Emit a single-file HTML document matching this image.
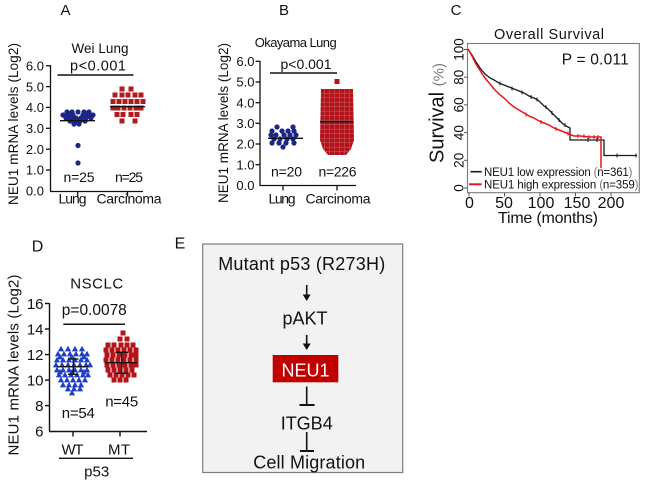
<!DOCTYPE html>
<html>
<head>
<meta charset="utf-8">
<style>
html,body{margin:0;padding:0;background:#fff;}
svg{display:block;}
text{font-family:"Liberation Sans",Arial,sans-serif;fill:#111;}
</style>
</head>
<body>
<svg width="646" height="487" viewBox="0 0 646 487" xmlns="http://www.w3.org/2000/svg">
<defs>
  <circle id="c" r="2.6"/>
  <rect id="s" x="-2.5" y="-2.5" width="5" height="5"/>
  <path id="t" d="M0,-3.2 L3.1,2.4 L-3.1,2.4Z"/>
  <pattern id="rp" width="5" height="4.5" patternUnits="userSpaceOnUse" x="320" y="89">
    <rect width="5" height="4.5" fill="#c7565a"/>
    <rect width="4.4" height="3.9" fill="#b3121b"/>
  </pattern>
</defs>
<rect width="646" height="487" fill="#fff"/>

<!-- ================= PANEL A ================= -->
<text x="65.5" y="15" font-size="15" text-anchor="middle">A</text>
<text x="100" y="53" font-size="13.5" text-anchor="middle" textLength="57">Wei Lung</text>
<text x="98" y="70.5" font-size="14.5" text-anchor="middle" textLength="56">p&lt;0.001</text>
<line x1="57.5" y1="75" x2="133.5" y2="75" stroke="#111" stroke-width="1.5"/>
<text transform="translate(18,124) rotate(-90)" font-size="13.5" text-anchor="middle" textLength="162">NEU1 mRNA levels (Log2)</text>
<g stroke="#111" stroke-width="1.3">
  <line x1="50.5" y1="65" x2="50.5" y2="191.5"/>
  <line x1="50" y1="191.5" x2="143" y2="191.5"/>
  <line x1="46" y1="65.7" x2="50.5" y2="65.7"/>
  <line x1="46" y1="86.6" x2="50.5" y2="86.6"/>
  <line x1="46" y1="107.4" x2="50.5" y2="107.4"/>
  <line x1="46" y1="128.3" x2="50.5" y2="128.3"/>
  <line x1="46" y1="149.2" x2="50.5" y2="149.2"/>
  <line x1="46" y1="170" x2="50.5" y2="170"/>
  <line x1="77.7" y1="191.5" x2="77.7" y2="196.5"/>
  <line x1="127.5" y1="191.5" x2="127.5" y2="196.5"/>
</g>
<g font-size="13" text-anchor="end">
  <text x="44" y="70.4">6.0</text>
  <text x="44" y="91.3">5.0</text>
  <text x="44" y="112.1">4.0</text>
  <text x="44" y="133">3.0</text>
  <text x="44" y="153.9">2.0</text>
  <text x="44" y="174.7">1.0</text>
  <text x="44" y="195.6">0.0</text>
</g>
<g fill="#1c2588">
  <use href="#c" x="67" y="112"/><use href="#c" x="72" y="112"/><use href="#c" x="78" y="112"/><use href="#c" x="84" y="112"/><use href="#c" x="89" y="112"/>
  <use href="#c" x="63" y="115"/><use href="#c" x="68" y="115"/><use href="#c" x="73" y="115"/><use href="#c" x="83" y="115"/><use href="#c" x="88" y="115"/><use href="#c" x="93" y="115"/>
  <use href="#c" x="66" y="118"/><use href="#c" x="71" y="118"/><use href="#c" x="76" y="118"/><use href="#c" x="81" y="118"/><use href="#c" x="86" y="118"/><use href="#c" x="91" y="118"/>
  <use href="#c" x="70" y="121"/><use href="#c" x="75" y="121"/><use href="#c" x="80" y="121"/><use href="#c" x="85" y="121"/>
  <use href="#c" x="74" y="124"/><use href="#c" x="79" y="124"/>
  <use href="#c" x="78" y="145.5"/><use href="#c" x="78" y="163"/>
</g>
<line x1="60" y1="120.7" x2="95" y2="120.7" stroke="#111" stroke-width="1.4"/>
<g fill="#b3191e">
  <use href="#s" x="122" y="89"/><use href="#s" x="131" y="89"/>
  <use href="#s" x="115" y="95"/><use href="#s" x="122" y="95"/><use href="#s" x="128" y="95"/><use href="#s" x="135" y="95"/><use href="#s" x="141" y="95"/>
  <use href="#s" x="113" y="101.5"/><use href="#s" x="119" y="101.5"/><use href="#s" x="125" y="101.5"/><use href="#s" x="131" y="101.5"/><use href="#s" x="137" y="101.5"/><use href="#s" x="143" y="101.5"/>
  <use href="#s" x="113" y="108"/><use href="#s" x="118" y="108"/><use href="#s" x="124" y="108"/><use href="#s" x="130" y="108"/><use href="#s" x="136" y="108"/><use href="#s" x="141" y="108"/>
  <use href="#s" x="117" y="114.5"/><use href="#s" x="123" y="114.5"/><use href="#s" x="131" y="114.5"/><use href="#s" x="137" y="114.5"/>
  <use href="#s" x="122" y="121"/><use href="#s" x="135" y="121"/>
</g>
<line x1="110" y1="106.7" x2="145" y2="106.7" stroke="#111" stroke-width="1.4"/>
<text x="79" y="182" font-size="14" text-anchor="middle" textLength="31">n=25</text>
<text x="129" y="182" font-size="14" text-anchor="middle" textLength="28">n=25</text>
<text x="72.5" y="203.5" font-size="14" text-anchor="middle" textLength="28">Lung</text>
<text x="129" y="203.5" font-size="14" text-anchor="middle" textLength="65">Carcinoma</text>

<!-- ================= PANEL B ================= -->
<text x="284" y="15" font-size="15" text-anchor="middle">B</text>
<text x="295.7" y="47" font-size="13" text-anchor="middle" textLength="82">Okayama Lung</text>
<text x="306" y="69" font-size="14" text-anchor="middle" textLength="51">p&lt;0.001</text>
<line x1="270" y1="73" x2="337" y2="73" stroke="#111" stroke-width="1.5"/>
<text transform="translate(228,123) rotate(-90)" font-size="13.5" text-anchor="middle" textLength="160">NEU1 mRNA levels (Log2)</text>
<g stroke="#111" stroke-width="1.3">
  <line x1="260" y1="61" x2="260" y2="185.5"/>
  <line x1="259.5" y1="185.5" x2="356" y2="185.5"/>
  <line x1="255.5" y1="61.3" x2="260" y2="61.3"/>
  <line x1="255.5" y1="82" x2="260" y2="82"/>
  <line x1="255.5" y1="102.7" x2="260" y2="102.7"/>
  <line x1="255.5" y1="123.3" x2="260" y2="123.3"/>
  <line x1="255.5" y1="144" x2="260" y2="144"/>
  <line x1="255.5" y1="164.7" x2="260" y2="164.7"/>
  <line x1="283" y1="185.5" x2="283" y2="190.5"/>
  <line x1="337" y1="185.5" x2="337" y2="190.5"/>
</g>
<g font-size="13" text-anchor="end">
  <text x="254.5" y="66">6.0</text>
  <text x="254.5" y="86.7">5.0</text>
  <text x="254.5" y="107.4">4.0</text>
  <text x="254.5" y="128">3.0</text>
  <text x="254.5" y="148.7">2.0</text>
  <text x="254.5" y="169.4">1.0</text>
  <text x="254.5" y="190">0.0</text>
</g>
<g fill="#1c2588">
  <use href="#c" x="277" y="127"/><use href="#c" x="293" y="127"/>
  <use href="#c" x="272" y="131"/><use href="#c" x="282" y="131"/><use href="#c" x="288" y="131"/><use href="#c" x="294" y="131"/>
  <use href="#c" x="271" y="135"/><use href="#c" x="276" y="135"/><use href="#c" x="284" y="135"/><use href="#c" x="290" y="135"/><use href="#c" x="296" y="135"/>
  <use href="#c" x="274" y="139"/><use href="#c" x="280" y="139"/><use href="#c" x="287" y="139"/><use href="#c" x="293" y="139"/>
  <use href="#c" x="272" y="143"/><use href="#c" x="279" y="143"/><use href="#c" x="286" y="143"/><use href="#c" x="294" y="143"/>
  <use href="#c" x="283" y="147"/>
</g>
<line x1="268" y1="138.3" x2="303" y2="138.3" stroke="#111" stroke-width="1.4"/>
<polygon points="321,89 353,89 354,140 351,149 346,155 328,155 323,149 320,140" fill="url(#rp)"/>
<rect x="334.5" y="79" width="5" height="5" fill="#b3121b"/>
<line x1="320" y1="121.7" x2="353.5" y2="121.7" stroke="#111" stroke-width="1.6"/>
<text x="286.5" y="176.5" font-size="14" text-anchor="middle" textLength="31">n=20</text>
<text x="337.5" y="176.5" font-size="14" text-anchor="middle" textLength="38">n=226</text>
<text x="282" y="203.5" font-size="14" text-anchor="middle" textLength="27">Lung</text>
<text x="338" y="203.5" font-size="14" text-anchor="middle" textLength="65">Carcinoma</text>

<!-- ================= PANEL C ================= -->
<text x="456" y="15" font-size="15" text-anchor="middle">C</text>
<text x="549" y="39" font-size="14.5" text-anchor="middle" textLength="110">Overall Survival</text>
<rect x="467.5" y="43.5" width="171.8" height="149.2" fill="none" stroke="#7a7a7a" stroke-width="1.1"/>
<text x="561.7" y="64.5" font-size="15.5" textLength="67">P = 0.011</text>
<text transform="translate(443.5,113) rotate(-90)" text-anchor="middle"><tspan font-size="20">Survival </tspan><tspan font-size="15" fill="#7a7a7a" style="fill:#7a7a7a">(%)</tspan></text>
<g stroke="#555" stroke-width="1">
  <line x1="464" y1="49.5" x2="467.5" y2="49.5"/>
  <line x1="464" y1="77.2" x2="467.5" y2="77.2"/>
  <line x1="464" y1="104.9" x2="467.5" y2="104.9"/>
  <line x1="464" y1="132.6" x2="467.5" y2="132.6"/>
  <line x1="464" y1="160.3" x2="467.5" y2="160.3"/>
  <line x1="464" y1="188" x2="467.5" y2="188"/>
  <line x1="469" y1="192.7" x2="469" y2="196.5"/>
  <line x1="504.5" y1="192.7" x2="504.5" y2="196.5"/>
  <line x1="540" y1="192.7" x2="540" y2="196.5"/>
  <line x1="575.5" y1="192.7" x2="575.5" y2="196.5"/>
  <line x1="611" y1="192.7" x2="611" y2="196.5"/>
</g>
<g font-size="13.5" text-anchor="middle">
  <text transform="translate(463.5,49.5) rotate(-90)">100</text>
  <text transform="translate(463.5,77.2) rotate(-90)">80</text>
  <text transform="translate(463.5,104.9) rotate(-90)">60</text>
  <text transform="translate(463.5,132.6) rotate(-90)">40</text>
  <text transform="translate(463.5,160.3) rotate(-90)">20</text>
  <text transform="translate(463.5,188) rotate(-90)">0</text>
</g>
<g font-size="16" text-anchor="middle">
  <text x="469.5" y="208">0</text>
  <text x="504" y="208">50</text>
  <text x="541" y="208">100</text>
  <text x="577" y="208">150</text>
  <text x="611" y="208">200</text>
</g>
<text x="548" y="223" font-size="16" text-anchor="middle" textLength="100">Time (months)</text>
<polyline fill="none" stroke="#1a1a1a" stroke-width="1.3" points="468,49 472,55 476,62 480,68 485,74 490,78 494,80 499,83 504,85 509,87 514,89 519,91 524,93 529,96 534,98 538,100 541,103 544,106 547,108 550,111 554,115 557,118 560,121 563,124 566,126 570,128 570,140 604,140 604,155.5 637,155.5"/>
<polyline fill="none" stroke="#e8141c" stroke-width="1.5" points="468,49 472,56 476,64 481,72 485,78 490,84 494,89 499,94 504,98 509,103 514,107 519,110 524,113 529,116 534,118 539,121 544,123 549,125 554,128 559,130 564,132 569,134 574,136 580,136 590,137 601,137 601,168"/>
<g stroke="#1a1a1a" stroke-width="1">
  <line x1="500" y1="81.5" x2="500" y2="85.5"/><line x1="512" y1="86.5" x2="512" y2="90.5"/><line x1="522" y1="90.5" x2="522" y2="94.5"/>
  <line x1="531" y1="95" x2="531" y2="99"/><line x1="537" y1="97.5" x2="537" y2="101.5"/><line x1="546" y1="105" x2="546" y2="109"/>
  <line x1="552" y1="111" x2="552" y2="115"/><line x1="559" y1="118" x2="559" y2="122"/><line x1="565" y1="123" x2="565" y2="127"/>
  <line x1="588" y1="138" x2="588" y2="142"/><line x1="597" y1="138" x2="597" y2="142"/><line x1="617" y1="153.5" x2="617" y2="157.5"/><line x1="636" y1="153.5" x2="636" y2="157.5"/>
</g>
<g stroke="#e8141c" stroke-width="1">
  <line x1="526" y1="112.5" x2="526" y2="116.5"/><line x1="541" y1="120" x2="541" y2="124"/><line x1="556" y1="127" x2="556" y2="131"/>
  <line x1="568" y1="131.5" x2="568" y2="135.5"/><line x1="578" y1="134" x2="578" y2="138"/><line x1="584" y1="134" x2="584" y2="138"/>
  <line x1="589" y1="135" x2="589" y2="139"/><line x1="594" y1="135" x2="594" y2="139"/><line x1="598" y1="135" x2="598" y2="139"/>
</g>
<line x1="470.5" y1="171.7" x2="481.7" y2="171.7" stroke="#1a1a1a" stroke-width="1.6"/>
<line x1="469" y1="184.3" x2="481.7" y2="184.3" stroke="#e8141c" stroke-width="2"/>
<text x="484" y="175.8" font-size="11.5" textLength="148.5">NEU1 low expression <tspan fill="#777" style="fill:#777">(</tspan>n=361<tspan fill="#777" style="fill:#777">)</tspan></text>
<text x="484" y="188.4" font-size="11.5" textLength="154.5">NEU1 high expression <tspan fill="#777" style="fill:#777">(</tspan>n=359<tspan fill="#777" style="fill:#777">)</tspan></text>

<!-- ================= PANEL D ================= -->
<text x="37.5" y="251.5" font-size="16" text-anchor="middle">D</text>
<text x="96.7" y="288.5" font-size="15" text-anchor="middle" textLength="53">NSCLC</text>
<text x="94.3" y="315" font-size="15.5" text-anchor="middle" textLength="65">p=0.0078</text>
<line x1="63.3" y1="324.3" x2="125" y2="324.3" stroke="#111" stroke-width="1.5"/>
<text transform="translate(18.5,365) rotate(-90)" font-size="15" text-anchor="middle" textLength="181">NEU1 mRNA levels (Log2)</text>
<g stroke="#111" stroke-width="1.4">
  <line x1="49.5" y1="303" x2="49.5" y2="431.5"/>
  <line x1="49" y1="431.5" x2="147" y2="431.5"/>
  <line x1="45" y1="303.5" x2="49.5" y2="303.5"/>
  <line x1="45" y1="329" x2="49.5" y2="329"/>
  <line x1="45" y1="354.6" x2="49.5" y2="354.6"/>
  <line x1="45" y1="380.1" x2="49.5" y2="380.1"/>
  <line x1="45" y1="405.6" x2="49.5" y2="405.6"/>
  <line x1="73" y1="431.5" x2="73" y2="436.5"/>
  <line x1="120" y1="431.5" x2="120" y2="436.5"/>
</g>
<g font-size="15" text-anchor="end">
  <text x="43.5" y="308.8">16</text>
  <text x="43.5" y="334.3">14</text>
  <text x="43.5" y="359.9">12</text>
  <text x="43.5" y="385.4">10</text>
  <text x="43.5" y="410.9">8</text>
  <text x="43.5" y="436.4">6</text>
</g>
<g fill="#1f3ec8">
  <use href="#t" x="61" y="349"/><use href="#t" x="68" y="349"/><use href="#t" x="75" y="349"/><use href="#t" x="82" y="349"/>
  <use href="#t" x="58" y="354"/><use href="#t" x="64" y="354"/><use href="#t" x="70" y="354"/><use href="#t" x="76" y="354"/><use href="#t" x="82" y="354"/><use href="#t" x="87" y="354"/>
  <use href="#t" x="60" y="357"/><use href="#t" x="72" y="357"/><use href="#t" x="84" y="357"/>
  <use href="#t" x="57" y="360"/><use href="#t" x="63" y="360"/><use href="#t" x="69" y="360"/><use href="#t" x="75" y="360"/><use href="#t" x="81" y="360"/><use href="#t" x="87" y="360"/>
  <use href="#t" x="56" y="365"/><use href="#t" x="62" y="365"/><use href="#t" x="68" y="365"/><use href="#t" x="74" y="365"/><use href="#t" x="80" y="365"/><use href="#t" x="86" y="365"/><use href="#t" x="90" y="365"/>
  <use href="#t" x="57" y="370"/><use href="#t" x="63" y="370"/><use href="#t" x="69" y="370"/><use href="#t" x="75" y="370"/><use href="#t" x="81" y="370"/><use href="#t" x="87" y="370"/>
  <use href="#t" x="60" y="372"/><use href="#t" x="72" y="372"/><use href="#t" x="84" y="372"/>
  <use href="#t" x="59" y="375"/><use href="#t" x="65" y="375"/><use href="#t" x="71" y="375"/><use href="#t" x="77" y="375"/><use href="#t" x="83" y="375"/><use href="#t" x="88" y="375"/>
  <use href="#t" x="61" y="380"/><use href="#t" x="67" y="380"/><use href="#t" x="73" y="380"/><use href="#t" x="79" y="380"/><use href="#t" x="85" y="380"/>
  <use href="#t" x="63" y="385"/><use href="#t" x="69" y="385"/><use href="#t" x="75" y="385"/><use href="#t" x="81" y="385"/>
  <use href="#t" x="68" y="389"/><use href="#t" x="74" y="389"/><use href="#t" x="80" y="389"/>
  <use href="#t" x="72" y="393"/>
</g>
<g stroke="#111" stroke-width="1.4">
  <line x1="57" y1="366.7" x2="88.5" y2="366.7"/>
  <line x1="73.3" y1="359" x2="73.3" y2="374.3"/>
  <line x1="68" y1="359" x2="78.5" y2="359"/>
  <line x1="68" y1="374.3" x2="78.5" y2="374.3"/>
</g>
<g fill="#b41418">
  <use href="#s" x="123" y="333"/>
  <use href="#s" x="120" y="339"/><use href="#s" x="127" y="339"/>
  <use href="#s" x="108" y="345"/><use href="#s" x="114" y="345"/><use href="#s" x="121" y="345"/><use href="#s" x="127" y="345"/><use href="#s" x="133" y="345"/>
  <use href="#s" x="106" y="350"/><use href="#s" x="112" y="350"/><use href="#s" x="118" y="350"/><use href="#s" x="124" y="350"/><use href="#s" x="130" y="350"/><use href="#s" x="136" y="350"/>
  <use href="#s" x="107" y="355"/><use href="#s" x="113" y="355"/><use href="#s" x="119" y="355"/><use href="#s" x="125" y="355"/><use href="#s" x="131" y="355"/><use href="#s" x="136" y="355"/>
  <use href="#s" x="106" y="360"/><use href="#s" x="112" y="360"/><use href="#s" x="118" y="360"/><use href="#s" x="124" y="360"/><use href="#s" x="130" y="360"/><use href="#s" x="136" y="360"/>
  <use href="#s" x="107" y="365"/><use href="#s" x="113" y="365"/><use href="#s" x="119" y="365"/><use href="#s" x="125" y="365"/><use href="#s" x="131" y="365"/><use href="#s" x="136" y="365"/>
  <use href="#s" x="108" y="370"/><use href="#s" x="114" y="370"/><use href="#s" x="120" y="370"/><use href="#s" x="126" y="370"/><use href="#s" x="132" y="370"/>
  <use href="#s" x="110" y="375"/><use href="#s" x="116" y="375"/><use href="#s" x="122" y="375"/><use href="#s" x="128" y="375"/><use href="#s" x="134" y="375"/>
  <use href="#s" x="114" y="380"/><use href="#s" x="120" y="380"/><use href="#s" x="126" y="380"/>
</g>
<g stroke="#111" stroke-width="1.4">
  <line x1="105" y1="362.7" x2="137" y2="362.7"/>
  <line x1="121.7" y1="352.3" x2="121.7" y2="373.3"/>
  <line x1="115.5" y1="352.3" x2="128" y2="352.3"/>
  <line x1="115.5" y1="373.3" x2="128" y2="373.3"/>
</g>
<text x="78.3" y="418" font-size="15" text-anchor="middle" textLength="33">n=54</text>
<text x="121.7" y="406.5" font-size="15" text-anchor="middle" textLength="33">n=45</text>
<text x="72.5" y="454.5" font-size="15" text-anchor="middle" textLength="22">WT</text>
<text x="119" y="454.5" font-size="15" text-anchor="middle" textLength="22">MT</text>
<line x1="59" y1="458.3" x2="133" y2="458.3" stroke="#111" stroke-width="1.3"/>
<text x="96.7" y="476.5" font-size="15" text-anchor="middle">p53</text>

<!-- ================= PANEL E ================= -->
<text x="180" y="248.3" font-size="16" text-anchor="middle">E</text>
<rect x="202.7" y="244" width="200" height="228.5" fill="#f2f2f2" stroke="#7f7f7f" stroke-width="1.2"/>
<text x="301.7" y="270" font-size="18" text-anchor="middle" textLength="167">Mutant p53 (R273H)</text>
<g stroke="#111" stroke-width="1.6">
  <line x1="306.7" y1="285" x2="306.7" y2="296"/>
  <line x1="306.7" y1="335" x2="306.7" y2="345"/>
  <line x1="306.7" y1="386.5" x2="306.7" y2="405"/>
  <line x1="299.5" y1="405" x2="314.5" y2="405" stroke-width="2"/>
  <line x1="306.7" y1="432" x2="306.7" y2="451"/>
  <line x1="300" y1="451" x2="314" y2="451" stroke-width="2"/>
</g>
<path d="M302.7,294.5 L310.7,294.5 L306.7,301Z" fill="#111"/>
<path d="M302.7,343.5 L310.7,343.5 L306.7,350Z" fill="#111"/>
<text x="305" y="324.5" font-size="18" text-anchor="middle">pAKT</text>
<rect x="272.7" y="355" width="65.6" height="27.3" fill="#c00000"/>
<text x="305.5" y="376.5" font-size="18" text-anchor="middle" fill="#fff" style="fill:#fff">NEU1</text>
<text x="306.7" y="429.5" font-size="18" text-anchor="middle">ITGB4</text>
<text x="309.2" y="468.5" font-size="18" text-anchor="middle" textLength="112">Cell Migration</text>
</svg>
</body>
</html>
